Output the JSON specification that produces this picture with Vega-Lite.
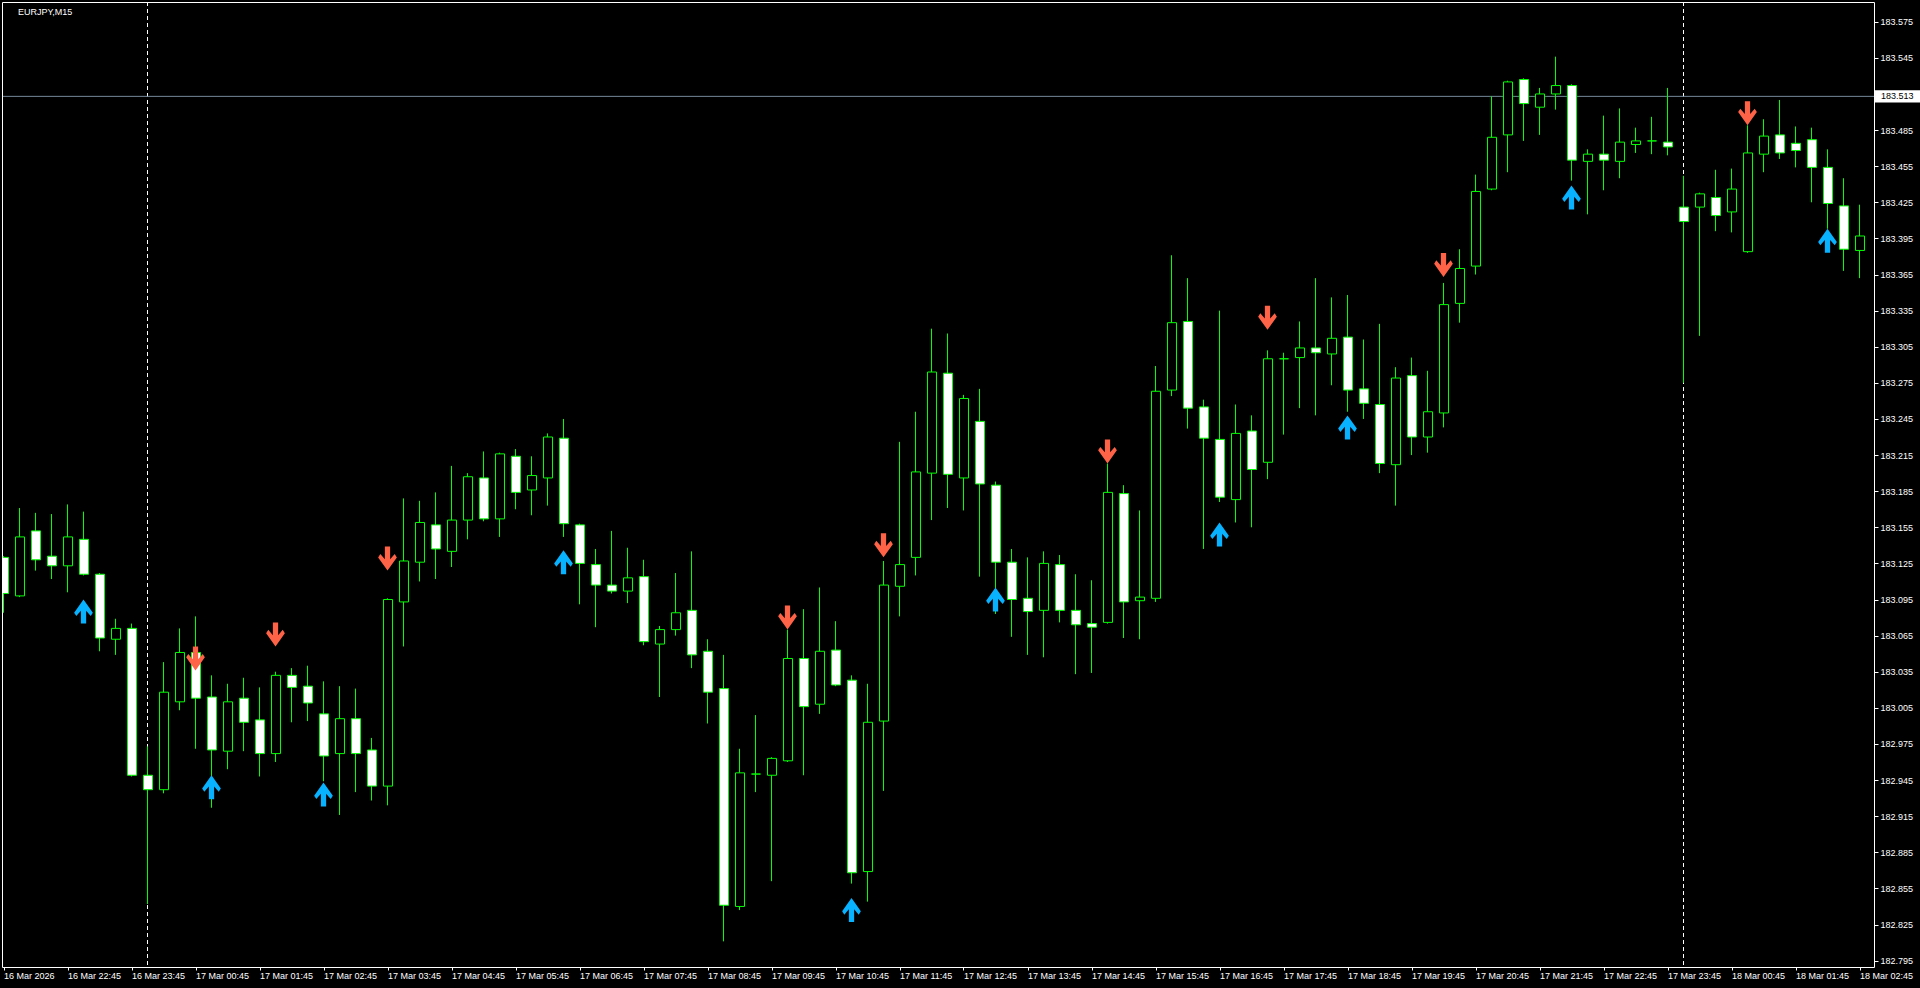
{
"$schema":"https://vega.github.io/schema/vega-lite/v6.json",
"width":1872,"height":965,
"autosize":{"type":"none"},
"padding":{"left":2,"top":2,"right":46,"bottom":21},
"background":"#000000",
"config":{"view":{"stroke":null},"font":"Liberation Sans","scale":{"continuousPadding":0}},
"title":{"text":"EURJPY,M15","anchor":"start","frame":"group","orient":"top","offset":0,"baseline":"top","dx":16,"dy":15,"color":"#FFFFFF","font":"Liberation Sans","fontSize":9,"fontWeight":"normal"},
"datasets":{
"bars":[
{"t":"2026-03-16T21:45:00Z","o":183.130,"h":183.131,"l":183.084,"c":183.100},
{"t":"2026-03-16T22:00:00Z","o":183.098,"h":183.171,"l":183.097,"c":183.147},
{"t":"2026-03-16T22:15:00Z","o":183.152,"h":183.167,"l":183.119,"c":183.128},
{"t":"2026-03-16T22:30:00Z","o":183.131,"h":183.166,"l":183.112,"c":183.123},
{"t":"2026-03-16T22:45:00Z","o":183.123,"h":183.174,"l":183.101,"c":183.147},
{"t":"2026-03-16T23:00:00Z","o":183.145,"h":183.168,"l":183.115,"c":183.116},
{"t":"2026-03-16T23:15:00Z","o":183.116,"h":183.117,"l":183.052,"c":183.063},
{"t":"2026-03-16T23:30:00Z","o":183.062,"h":183.079,"l":183.049,"c":183.071},
{"t":"2026-03-16T23:45:00Z","o":183.071,"h":183.075,"l":182.948,"c":182.949},
{"t":"2026-03-17T00:00:00Z","o":182.949,"h":182.973,"l":182.842,"c":182.937},
{"t":"2026-03-17T00:15:00Z","o":182.937,"h":183.043,"l":182.934,"c":183.018},
{"t":"2026-03-17T00:30:00Z","o":183.010,"h":183.071,"l":183.003,"c":183.051},
{"t":"2026-03-17T00:45:00Z","o":183.051,"h":183.081,"l":182.971,"c":183.013},
{"t":"2026-03-17T01:00:00Z","o":183.014,"h":183.032,"l":182.922,"c":182.970},
{"t":"2026-03-17T01:15:00Z","o":182.969,"h":183.025,"l":182.954,"c":183.010},
{"t":"2026-03-17T01:30:00Z","o":183.013,"h":183.030,"l":182.969,"c":182.993},
{"t":"2026-03-17T01:45:00Z","o":182.995,"h":183.022,"l":182.948,"c":182.967},
{"t":"2026-03-17T02:00:00Z","o":182.967,"h":183.035,"l":182.960,"c":183.032},
{"t":"2026-03-17T02:15:00Z","o":183.032,"h":183.038,"l":182.993,"c":183.022},
{"t":"2026-03-17T02:30:00Z","o":183.023,"h":183.040,"l":182.994,"c":183.009},
{"t":"2026-03-17T02:45:00Z","o":183.000,"h":183.027,"l":182.944,"c":182.965},
{"t":"2026-03-17T03:00:00Z","o":182.967,"h":183.023,"l":182.916,"c":182.996},
{"t":"2026-03-17T03:15:00Z","o":182.996,"h":183.021,"l":182.935,"c":182.967},
{"t":"2026-03-17T03:30:00Z","o":182.970,"h":182.980,"l":182.928,"c":182.940},
{"t":"2026-03-17T03:45:00Z","o":182.940,"h":183.096,"l":182.924,"c":183.095},
{"t":"2026-03-17T04:00:00Z","o":183.093,"h":183.179,"l":183.056,"c":183.127},
{"t":"2026-03-17T04:15:00Z","o":183.126,"h":183.177,"l":183.110,"c":183.159},
{"t":"2026-03-17T04:30:00Z","o":183.157,"h":183.184,"l":183.112,"c":183.137},
{"t":"2026-03-17T04:45:00Z","o":183.135,"h":183.206,"l":183.122,"c":183.161},
{"t":"2026-03-17T05:00:00Z","o":183.161,"h":183.200,"l":183.145,"c":183.197},
{"t":"2026-03-17T05:15:00Z","o":183.196,"h":183.218,"l":183.160,"c":183.162},
{"t":"2026-03-17T05:30:00Z","o":183.162,"h":183.217,"l":183.147,"c":183.216},
{"t":"2026-03-17T05:45:00Z","o":183.214,"h":183.220,"l":183.170,"c":183.184},
{"t":"2026-03-17T06:00:00Z","o":183.186,"h":183.214,"l":183.165,"c":183.198},
{"t":"2026-03-17T06:15:00Z","o":183.196,"h":183.233,"l":183.173,"c":183.230},
{"t":"2026-03-17T06:30:00Z","o":183.229,"h":183.245,"l":183.147,"c":183.158},
{"t":"2026-03-17T06:45:00Z","o":183.157,"h":183.158,"l":183.091,"c":183.125},
{"t":"2026-03-17T07:00:00Z","o":183.124,"h":183.137,"l":183.072,"c":183.107},
{"t":"2026-03-17T07:15:00Z","o":183.107,"h":183.152,"l":183.100,"c":183.102},
{"t":"2026-03-17T07:30:00Z","o":183.102,"h":183.138,"l":183.092,"c":183.113},
{"t":"2026-03-17T07:45:00Z","o":183.114,"h":183.128,"l":183.057,"c":183.060},
{"t":"2026-03-17T08:00:00Z","o":183.058,"h":183.073,"l":183.014,"c":183.070},
{"t":"2026-03-17T08:15:00Z","o":183.070,"h":183.117,"l":183.065,"c":183.084},
{"t":"2026-03-17T08:30:00Z","o":183.086,"h":183.135,"l":183.038,"c":183.049},
{"t":"2026-03-17T08:45:00Z","o":183.052,"h":183.062,"l":182.992,"c":183.018},
{"t":"2026-03-17T09:00:00Z","o":183.021,"h":183.049,"l":182.811,"c":182.841},
{"t":"2026-03-17T09:15:00Z","o":182.840,"h":182.971,"l":182.837,"c":182.951},
{"t":"2026-03-17T09:30:00Z","o":182.950,"h":182.999,"l":182.935,"c":182.950},
{"t":"2026-03-17T09:45:00Z","o":182.949,"h":182.964,"l":182.861,"c":182.963},
{"t":"2026-03-17T10:00:00Z","o":182.961,"h":183.070,"l":182.960,"c":183.046},
{"t":"2026-03-17T10:15:00Z","o":183.046,"h":183.087,"l":182.949,"c":183.006},
{"t":"2026-03-17T10:30:00Z","o":183.008,"h":183.105,"l":183.000,"c":183.052},
{"t":"2026-03-17T10:45:00Z","o":183.053,"h":183.077,"l":183.023,"c":183.024},
{"t":"2026-03-17T11:00:00Z","o":183.028,"h":183.032,"l":182.859,"c":182.868},
{"t":"2026-03-17T11:15:00Z","o":182.869,"h":183.025,"l":182.844,"c":182.993},
{"t":"2026-03-17T11:30:00Z","o":182.994,"h":183.127,"l":182.936,"c":183.107},
{"t":"2026-03-17T11:45:00Z","o":183.106,"h":183.226,"l":183.081,"c":183.124},
{"t":"2026-03-17T12:00:00Z","o":183.130,"h":183.251,"l":183.115,"c":183.201},
{"t":"2026-03-17T12:15:00Z","o":183.200,"h":183.320,"l":183.161,"c":183.284},
{"t":"2026-03-17T12:30:00Z","o":183.283,"h":183.316,"l":183.171,"c":183.199},
{"t":"2026-03-17T12:45:00Z","o":183.196,"h":183.265,"l":183.169,"c":183.262},
{"t":"2026-03-17T13:00:00Z","o":183.243,"h":183.270,"l":183.114,"c":183.191},
{"t":"2026-03-17T13:15:00Z","o":183.190,"h":183.193,"l":183.083,"c":183.126},
{"t":"2026-03-17T13:30:00Z","o":183.126,"h":183.137,"l":183.064,"c":183.095},
{"t":"2026-03-17T13:45:00Z","o":183.096,"h":183.130,"l":183.049,"c":183.085},
{"t":"2026-03-17T14:00:00Z","o":183.086,"h":183.135,"l":183.047,"c":183.125},
{"t":"2026-03-17T14:15:00Z","o":183.124,"h":183.132,"l":183.076,"c":183.086},
{"t":"2026-03-17T14:30:00Z","o":183.086,"h":183.116,"l":183.033,"c":183.074},
{"t":"2026-03-17T14:45:00Z","o":183.075,"h":183.111,"l":183.034,"c":183.072},
{"t":"2026-03-17T15:00:00Z","o":183.076,"h":183.208,"l":183.075,"c":183.184},
{"t":"2026-03-17T15:15:00Z","o":183.183,"h":183.190,"l":183.063,"c":183.093},
{"t":"2026-03-17T15:30:00Z","o":183.094,"h":183.169,"l":183.062,"c":183.097},
{"t":"2026-03-17T15:45:00Z","o":183.096,"h":183.289,"l":183.093,"c":183.268},
{"t":"2026-03-17T16:00:00Z","o":183.269,"h":183.381,"l":183.264,"c":183.325},
{"t":"2026-03-17T16:15:00Z","o":183.326,"h":183.362,"l":183.237,"c":183.254},
{"t":"2026-03-17T16:30:00Z","o":183.255,"h":183.261,"l":183.137,"c":183.229},
{"t":"2026-03-17T16:45:00Z","o":183.228,"h":183.335,"l":183.176,"c":183.180},
{"t":"2026-03-17T17:00:00Z","o":183.178,"h":183.257,"l":183.159,"c":183.233},
{"t":"2026-03-17T17:15:00Z","o":183.235,"h":183.248,"l":183.155,"c":183.203},
{"t":"2026-03-17T17:30:00Z","o":183.209,"h":183.302,"l":183.195,"c":183.295},
{"t":"2026-03-17T17:45:00Z","o":183.295,"h":183.300,"l":183.232,"c":183.295},
{"t":"2026-03-17T18:00:00Z","o":183.296,"h":183.326,"l":183.254,"c":183.304},
{"t":"2026-03-17T18:15:00Z","o":183.304,"h":183.362,"l":183.248,"c":183.300},
{"t":"2026-03-17T18:30:00Z","o":183.299,"h":183.346,"l":183.273,"c":183.312},
{"t":"2026-03-17T18:45:00Z","o":183.313,"h":183.348,"l":183.251,"c":183.269},
{"t":"2026-03-17T19:00:00Z","o":183.270,"h":183.311,"l":183.245,"c":183.258},
{"t":"2026-03-17T19:15:00Z","o":183.257,"h":183.324,"l":183.200,"c":183.208},
{"t":"2026-03-17T19:30:00Z","o":183.207,"h":183.288,"l":183.173,"c":183.279},
{"t":"2026-03-17T19:45:00Z","o":183.281,"h":183.296,"l":183.215,"c":183.230},
{"t":"2026-03-17T20:00:00Z","o":183.230,"h":183.285,"l":183.217,"c":183.251},
{"t":"2026-03-17T20:15:00Z","o":183.250,"h":183.358,"l":183.238,"c":183.340},
{"t":"2026-03-17T20:30:00Z","o":183.341,"h":183.386,"l":183.325,"c":183.370},
{"t":"2026-03-17T20:45:00Z","o":183.372,"h":183.448,"l":183.365,"c":183.434},
{"t":"2026-03-17T21:00:00Z","o":183.436,"h":183.513,"l":183.435,"c":183.479},
{"t":"2026-03-17T21:15:00Z","o":183.481,"h":183.526,"l":183.450,"c":183.525},
{"t":"2026-03-17T21:30:00Z","o":183.527,"h":183.528,"l":183.476,"c":183.507},
{"t":"2026-03-17T21:45:00Z","o":183.504,"h":183.520,"l":183.481,"c":183.515},
{"t":"2026-03-17T22:00:00Z","o":183.515,"h":183.546,"l":183.502,"c":183.522},
{"t":"2026-03-17T22:15:00Z","o":183.522,"h":183.523,"l":183.443,"c":183.460},
{"t":"2026-03-17T22:30:00Z","o":183.459,"h":183.469,"l":183.415,"c":183.465},
{"t":"2026-03-17T22:45:00Z","o":183.465,"h":183.497,"l":183.435,"c":183.460},
{"t":"2026-03-17T23:00:00Z","o":183.459,"h":183.503,"l":183.445,"c":183.475},
{"t":"2026-03-17T23:15:00Z","o":183.473,"h":183.487,"l":183.466,"c":183.476},
{"t":"2026-03-17T23:30:00Z","o":183.476,"h":183.496,"l":183.465,"c":183.476},
{"t":"2026-03-17T23:45:00Z","o":183.475,"h":183.520,"l":183.464,"c":183.471},
{"t":"2026-03-18T00:00:00Z","o":183.421,"h":183.447,"l":183.275,"c":183.409},
{"t":"2026-03-18T00:15:00Z","o":183.421,"h":183.433,"l":183.314,"c":183.432},
{"t":"2026-03-18T00:30:00Z","o":183.429,"h":183.452,"l":183.401,"c":183.414},
{"t":"2026-03-18T00:45:00Z","o":183.417,"h":183.453,"l":183.400,"c":183.436},
{"t":"2026-03-18T01:00:00Z","o":183.384,"h":183.489,"l":183.383,"c":183.466},
{"t":"2026-03-18T01:15:00Z","o":183.465,"h":183.494,"l":183.450,"c":183.480},
{"t":"2026-03-18T01:30:00Z","o":183.481,"h":183.510,"l":183.461,"c":183.466},
{"t":"2026-03-18T01:45:00Z","o":183.474,"h":183.488,"l":183.454,"c":183.468},
{"t":"2026-03-18T02:00:00Z","o":183.477,"h":183.487,"l":183.425,"c":183.454},
{"t":"2026-03-18T02:15:00Z","o":183.454,"h":183.469,"l":183.403,"c":183.424},
{"t":"2026-03-18T02:30:00Z","o":183.422,"h":183.445,"l":183.368,"c":183.386},
{"t":"2026-03-18T02:45:00Z","o":183.385,"h":183.423,"l":183.362,"c":183.397}
],
"signals":[
{"t":"2026-03-16T23:00:00Z","sig":"up","p":183.085},
{"t":"2026-03-17T00:45:00Z","sig":"down","p":183.046},
{"t":"2026-03-17T01:00:00Z","sig":"up","p":182.939},
{"t":"2026-03-17T02:00:00Z","sig":"down","p":183.066},
{"t":"2026-03-17T02:45:00Z","sig":"up","p":182.933},
{"t":"2026-03-17T03:45:00Z","sig":"down","p":183.129},
{"t":"2026-03-17T06:30:00Z","sig":"up","p":183.126},
{"t":"2026-03-17T10:00:00Z","sig":"down","p":183.080},
{"t":"2026-03-17T11:00:00Z","sig":"up","p":182.837},
{"t":"2026-03-17T11:30:00Z","sig":"down","p":183.140},
{"t":"2026-03-17T13:15:00Z","sig":"up","p":183.095},
{"t":"2026-03-17T15:00:00Z","sig":"down","p":183.218},
{"t":"2026-03-17T16:45:00Z","sig":"up","p":183.149},
{"t":"2026-03-17T17:30:00Z","sig":"down","p":183.329},
{"t":"2026-03-17T18:45:00Z","sig":"up","p":183.238},
{"t":"2026-03-17T20:15:00Z","sig":"down","p":183.373},
{"t":"2026-03-17T22:15:00Z","sig":"up","p":183.429},
{"t":"2026-03-18T01:00:00Z","sig":"down","p":183.499},
{"t":"2026-03-18T02:15:00Z","sig":"up","p":183.393}
],
"seps":[{"t":"2026-03-17T00:00:00Z"},{"t":"2026-03-18T00:00:00Z"}],
"bid":[{"p":183.513}]
},
"layer":[
{"data":{"name":"seps"},"mark":{"type":"rule","color":"#FFFFFF","strokeDash":[4,3],"strokeWidth":1},
 "encoding":{"x":{"field":"t","type":"temporal","scale":{"type":"utc","domain":[1773697415625,1773802715625],"nice":false,"padding":0},"axis":null}}},
{"data":{"name":"bid"},"mark":{"type":"rule","color":"#778899","strokeWidth":1},
 "encoding":{"y":{"field":"p","type":"quantitative","scale":{"domain":[182.7897,183.5914],"zero":false,"nice":false,"padding":0},"axis":null}}},
{"data":{"name":"bars"},"mark":{"type":"rule","color":"#00FF00","strokeWidth":1,"clip":true},
 "encoding":{
  "x":{"field":"t","type":"temporal","scale":{"type":"utc","domain":[1773697415625,1773802715625],"nice":false,"padding":0},
   "axis":{"orient":"bottom","title":null,"grid":false,"domain":true,"domainColor":"#FFFFFF","ticks":true,"tickColor":"#FFFFFF","tickSize":3,
    "values":[1773697500000,1773701100000,1773704700000,1773708300000,1773711900000,1773715500000,1773719100000,1773722700000,1773726300000,1773729900000,1773733500000,1773737100000,1773740700000,1773744300000,1773747900000,1773751500000,1773755100000,1773758700000,1773762300000,1773765900000,1773769500000,1773773100000,1773776700000,1773780300000,1773783900000,1773787500000,1773791100000,1773794700000,1773798300000,1773801900000],
    "labelExpr":"utcFormat(datum.value, '%d %b %H:%M') == '16 Mar 21:45' ? '16 Mar 2026' : utcFormat(datum.value, '%d %b %H:%M')",
    "labelColor":"#FFFFFF","labelFont":"Liberation Sans","labelFontSize":9,"labelAlign":"left","labelBaseline":"top","labelPadding":1,"labelOverlap":false,"labelBound":false,"labelFlush":false}},
  "y":{"field":"l","type":"quantitative","scale":{"domain":[182.7897,183.5914],"zero":false,"nice":false,"padding":0},
   "axis":{"orient":"right","title":null,"grid":false,"domain":true,"domainColor":"#FFFFFF","ticks":true,"tickColor":"#FFFFFF","tickSize":4,
    "values":[182.795,182.825,182.855,182.885,182.915,182.945,182.975,183.005,183.035,183.065,183.095,183.125,183.155,183.185,183.215,183.245,183.275,183.305,183.335,183.365,183.395,183.425,183.455,183.485,183.545,183.575],
    "format":".3f","labelColor":"#FFFFFF","labelFont":"Liberation Sans","labelFontSize":9,"labelPadding":2,"labelOverlap":false,"labelBound":false,"labelFlush":false}},
  "y2":{"field":"h"}}},
{"data":{"name":"bars"},"mark":{"type":"bar","width":9,"xOffset":0.5,"stroke":"#00FF00","strokeWidth":1,"clip":true},
 "encoding":{
  "x":{"field":"t","type":"temporal","scale":{"type":"utc","domain":[1773697415625,1773802715625],"nice":false,"padding":0},
   "axis":{"orient":"top","title":null,"grid":false,"domain":true,"domainColor":"#FFFFFF","ticks":false,"labels":false,"zindex":1}},
  "y":{"field":"o","type":"quantitative","scale":{"domain":[182.7897,183.5914],"zero":false,"nice":false,"padding":0},
   "axis":{"orient":"left","title":null,"grid":false,"domain":true,"domainColor":"#FFFFFF","ticks":false,"labels":false,"zindex":1}},
  "y2":{"field":"c"},
  "fill":{"condition":{"test":"datum.c < datum.o","value":"#FFFFFF"},"value":"#000000"}}},
{"data":{"name":"signals"},"mark":{"type":"point","filled":true,"size":576,"opacity":1,"strokeWidth":0,"clip":true},
 "encoding":{
  "x":{"field":"t","type":"temporal","axis":null},
  "y":{"field":"p","type":"quantitative","axis":null},
  "shape":{"field":"sig","type":"nominal","legend":null,"scale":{"domain":["up","down"],"range":["M0,-1L0.78,0.1L0.6,0.38L0.22,-0.06L0.22,1L-0.22,1L-0.22,-0.06L-0.6,0.38L-0.78,0.1Z","M0,1L0.78,-0.1L0.6,-0.38L0.22,0.06L0.22,-1L-0.22,-1L-0.22,0.06L-0.6,-0.38L-0.78,-0.1Z"]}},
  "color":{"field":"sig","type":"nominal","legend":null,"scale":{"domain":["up","down"],"range":["#08B2FF","#FF6347"]}}}},
{"data":{"name":"bid"},"mark":{"type":"rect","color":"#FFFFFF","clip":false},
 "encoding":{
  "x":{"datum":1773802773000,"type":"temporal","axis":null},"x2":{"datum":1773805305000},
  "y":{"datum":183.508,"type":"quantitative","axis":null},"y2":{"datum":183.518}}},
{"data":{"name":"bid"},"mark":{"type":"text","align":"left","baseline":"middle","color":"#000000","font":"Liberation Sans","fontSize":9,"clip":false},
 "encoding":{
  "x":{"datum":1773803109000,"type":"temporal","axis":null},
  "y":{"field":"p","type":"quantitative","axis":null},
  "text":{"field":"p","type":"quantitative","format":".3f"}}}
],
"resolve":{"axis":{"x":"independent","y":"independent"}}
}
